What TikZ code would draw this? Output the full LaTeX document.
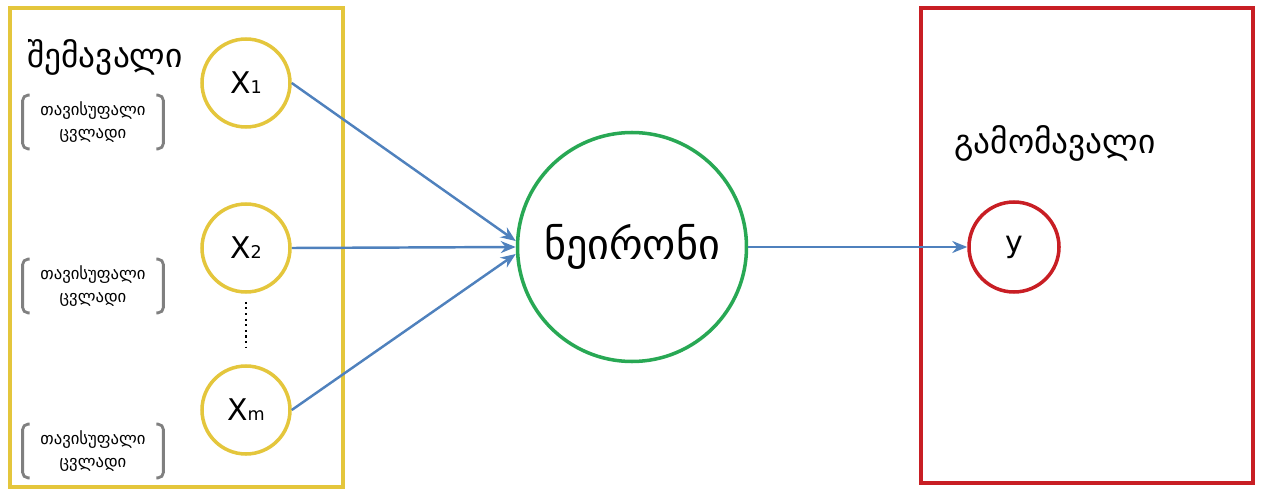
\documentclass[tikz,border=0pt]{standalone}
\usepackage{fontspec}
\setmainfont{DejaVu Sans}
\newfontfamily\geo{DejaVu Sans}
\usetikzlibrary{arrows.meta,positioning,calc}
\definecolor{boxYellow}{RGB}{228, 198, 60}
\definecolor{boxRed}{RGB}{200, 30, 36}
\definecolor{cellGreen}{RGB}{40, 168, 84}
\definecolor{linkBlue}{RGB}{79, 129, 189}
\definecolor{brkGray}{RGB}{128, 128, 128}

\begin{document}
\begin{tikzpicture}[
      frame/.style={line width=2.2pt},
      unit/.style={circle, draw=boxYellow, fill=white, line width=2pt, minimum size=1.76cm, inner sep=0pt, font=\fontsize{17pt}{19pt}\selectfont},
      cell/.style={circle, draw=cellGreen, fill=white, line width=2pt, minimum size=4.58cm, inner sep=0pt, font=\geo\fontsize{24pt}{27pt}\selectfont},
      outunit/.style={circle, draw=boxRed, fill=white, line width=2pt, minimum size=1.8cm, inner sep=0pt, font=\fontsize{17pt}{19pt}\selectfont},
      title/.style={font=\geo\fontsize{19pt}{22pt}\selectfont},
      varlab/.style={align=center, minimum width=2.8cm, minimum height=1.06cm, inner sep=0pt, font=\geo\fontsize{9.5pt}{13pt}\selectfont},
      brk/.style={draw=brkGray, line width=1.6pt, rounded corners=3pt},
      arr/.style={-{Stealth[length=3mm, width=2.4mm]}, line width=1.4pt, color=linkBlue}
  ]
      \useasboundingbox (0, 0) rectangle (25.32, 9.78);

      % INPUT
      \draw[frame, draw=boxYellow] (0.2, 0.04) rectangle (6.86, 9.62);
      \node[title] (intitle) at (2.1, 8.64) {შემავალი};

      \node[unit] (x1) at (4.92, 8.12) {X{\fontsize{10pt}{12pt}\selectfont 1}};
      \node[unit] (x2) at (4.92, 4.82) {X{\fontsize{10pt}{12pt}\selectfont 2}};
      \node[unit] (xm) at (4.92, 1.58) {X{\fontsize{10pt}{12pt}\selectfont m}};
      \draw[dotted, line width=1.2pt] ([yshift=-0.16cm]x2.south) -- ([yshift=0.32cm]xm.north);

      \foreach \n/\y in {1/7.34, 2/4.06, 3/0.76} {
          \node[varlab] (var\n) at (1.86, \y) {თავისუფალი\\ცვლადი};
          \draw[brk] ([xshift=0.14cm]var\n.north west) -- (var\n.north west) -- (var\n.south west) -- ([xshift=0.14cm]var\n.south west);
          \draw[brk] ([xshift=-0.14cm]var\n.north east) -- (var\n.north east) -- (var\n.south east) -- ([xshift=-0.14cm]var\n.south east);
      }

      % NEURON
      \node[cell] (neuron) at (12.64, 4.84) {ნეირონი};

      % OUTPUT
      \draw[frame, draw=boxRed] (18.42, 0.12) rectangle (25.06, 9.62);
      \node[title] (outtitle) at (21.1, 6.92) {გამომავალი};
      \node[outunit] (y) at (20.28, 4.84) {y};

      \draw[arr] (x1.east) -- ([yshift=0.12cm]neuron.west);
      \draw[arr] (x2.east) -- (neuron.west);
      \draw[arr] (xm.east) -- ([yshift=-0.14cm]neuron.west);
      \draw[arr] (neuron.east) -- (y.west);
  \end{tikzpicture}
\end{document}
